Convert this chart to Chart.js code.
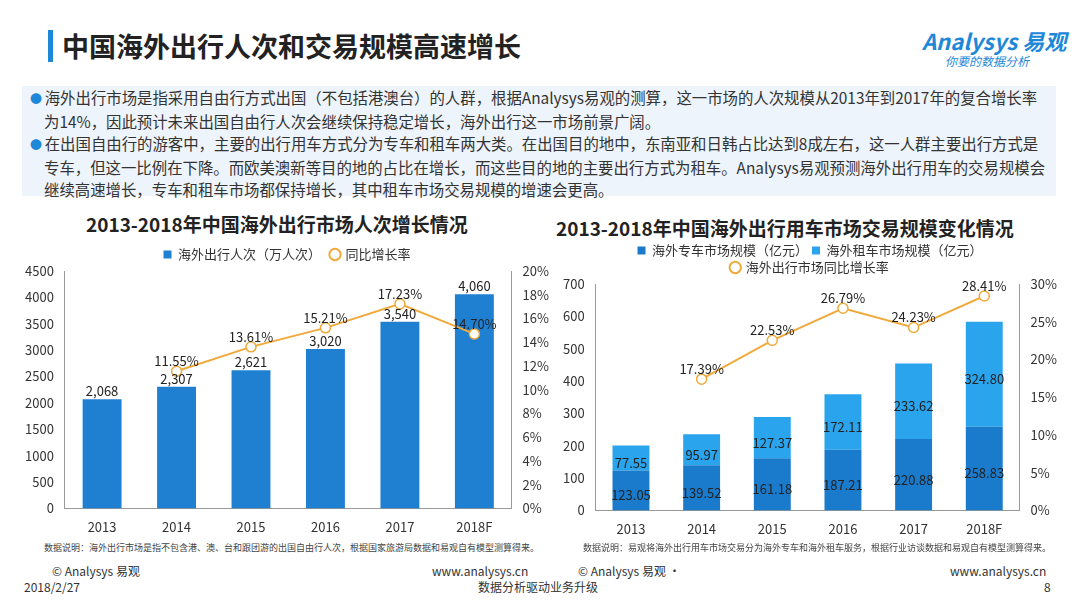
<!DOCTYPE html>
<html><head><meta charset="utf-8">
<script src="https://cdn.jsdelivr.net/npm/chart.js@4"></script>
<style>
body{margin:0;width:1080px;height:608px;background:#fff;font-family:"Noto Sans CJK SC","Noto Sans",sans-serif;position:relative;overflow:hidden;color:#333}
.abs{position:absolute}
#head{left:62px;top:26px;font-size:27px;font-weight:bold;color:#222}
#bar{left:48px;top:30px;width:5px;height:32px;background:#1e88d8}
#logo{left:922px;top:24px;font-size:22px;color:#1e88d8;font-style:italic;font-weight:bold}
#slogan{left:945px;top:52px;font-size:12px;color:#1e88d8;font-style:italic}
#box{left:22px;top:86px;width:1034px;height:110px;background:#eef4fb;font-size:15.4px;line-height:22px;padding:0 8px;box-sizing:border-box}
#box p{margin:0;padding-left:14px;text-indent:-14px}
#box p:before{content:"● ";color:#1e88d8;font-size:12px}
.t{font-size:19px;font-weight:bold;color:#222}
.note{font-size:9px;color:#444}
.foot{font-size:12px;color:#333}
canvas{position:absolute}
</style></head><body>
<div id="bar" class="abs"></div>
<div id="head" class="abs">中国海外出行人次和交易规模高速增长</div>
<div id="logo" class="abs">Analysys 易观</div>
<div id="slogan" class="abs">你要的数据分析</div>
<div id="box" class="abs">
<p>海外出行市场是指采用自由行方式出国（不包括港澳台）的人群，根据Analysys易观的测算，这一市场的人次规模从2013年到2017年的复合增长率为14%，因此预计未来出国自由行人次会继续保持稳定增长，海外出行这一市场前景广阔。</p>
<p>在出国自由行的游客中，主要的出行用车方式分为专车和租车两大类。在出国目的地中，东南亚和日韩占比达到8成左右，这一人群主要出行方式是专车，但这一比例在下降。而欧美澳新等目的地的占比在增长，而这些目的地的主要出行方式为租车。Analysys易观预测海外出行用车的交易规模会继续高速增长，专车和租车市场都保持增长，其中租车市场交易规模的增速会更高。</p>
</div>
<div class="abs t" style="left:86px;top:210px">2013-2018年中国海外出行市场人次增长情况</div>
<div class="abs t" style="left:556px;top:214px">2013-2018年中国海外出行用车市场交易规模变化情况</div>
<canvas id="c1" width="540" height="300" style="left:22px;top:238px"></canvas>
<canvas id="c2" width="510" height="300" style="left:560px;top:240px"></canvas>
<div class="abs note" style="left:44px;top:541px">数据说明：海外出行市场是指不包含港、澳、台和跟团游的出国自由行人次，根据国家旅游局数据和易观自有模型测算得来。</div>
<div class="abs note" style="left:583px;top:541px">数据说明：易观将海外出行用车市场交易分为海外专车和海外租车服务，根据行业访谈数据和易观自有模型测算得来。</div>
<div class="abs foot" style="left:52px;top:562px">© Analysys 易观</div>
<div class="abs foot" style="left:432px;top:562px">www.analysys.cn</div>
<div class="abs foot" style="left:578px;top:562px">© Analysys 易观 ·</div>
<div class="abs foot" style="left:950px;top:562px">www.analysys.cn</div>
<div class="abs foot" style="left:24px;top:578px">2018/2/27</div>
<div class="abs foot" style="left:478px;top:578px">数据分析驱动业务升级</div>
<div class="abs foot" style="left:1044px;top:578px">8</div>
<script>
const years = ['2013', '2014', '2015', '2016', '2017', '2018F']
const travelers = [2068, 2307, 2621, 3020, 3540, 4060]
const travelerGrowth = [null, 11.55, 13.61, 15.21, 17.23, 14.70]
const chauffeur = [123.05, 139.52, 161.18, 187.21, 220.88, 258.83]
const rental = [77.55, 95.97, 127.37, 172.11, 233.62, 324.80]
const carGrowth = [null, 17.39, 22.53, 26.79, 24.23, 28.41]

const orange = '#f0aa3c'
const font = { family: '"Noto Sans CJK SC", sans-serif', size: 13 }
Chart.defaults.font = font
Chart.defaults.color = '#333'

// draws value labels for each dataset
const valueLabels = {
  id: 'valueLabels',
  afterDatasetsDraw(chart, args, opts) {
    const ctx = chart.ctx
    ctx.save()
    ctx.font = '13px "Noto Sans CJK SC", sans-serif'
    ctx.textAlign = 'center'
    chart.data.datasets.forEach((ds, i) => {
      const meta = chart.getDatasetMeta(i)
      meta.data.forEach((el, j) => {
        const v = ds.data[j]
        if (v == null) return
        let y, txt
        if (ds.type === 'line') {
          txt = v.toFixed(2) + '%'
          y = el.y - 10
        } else if (opts.inside) {
          txt = v.toFixed(2)
          y = (el.y + el.base) / 2 + 5
        } else {
          txt = v.toLocaleString('en-US')
          y = el.y - 8
        }
        ctx.fillStyle = '#222'
        ctx.fillText(txt, el.x, y)
      })
    })
    ctx.restore()
  }
}

function legendItems(chart) {
  return chart.data.datasets.map((ds, i) => ({
    text: ds.label, datasetIndex: i,
    fillStyle: ds.type === 'line' ? '#fff' : ds.backgroundColor,
    strokeStyle: ds.type === 'line' ? orange : ds.backgroundColor,
    lineWidth: ds.type === 'line' ? 2 : 0,
    pointStyle: ds.type === 'line' ? 'circle' : 'rect',
    fontColor: '#333'
  }))
}

const legendOpts = {
  position: 'top',
  labels: { usePointStyle: true, boxWidth: 8, boxHeight: 8, font: { size: 13, family: font.family }, padding: 10, generateLabels: legendItems }
}

new Chart(document.getElementById('c1'), {
  data: {
    labels: years,
    datasets: [
      { type: 'line', label: '同比增长率', data: travelerGrowth, yAxisID: 'y1', borderColor: orange, borderWidth: 2,
        pointRadius: 5, pointBackgroundColor: '#fff', pointBorderColor: orange, pointBorderWidth: 1.5 },
      { type: 'bar', label: '海外出行人次（万人次）', data: travelers, yAxisID: 'y', backgroundColor: '#1f80d2',
        barPercentage: 0.55, categoryPercentage: 0.95 }
    ]
  },
  plugins: [valueLabels],
  options: {
    responsive: false, animation: false,
    layout: { padding: { right: 10 } },
    plugins: {
      legend: { ...legendOpts, reverse: true },
      valueLabels: { inside: false }
    },
    scales: {
      x: { grid: { display: false }, border: { color: '#999' } },
      y: { min: 0, max: 4500, ticks: { stepSize: 500, callback: v => v }, grid: { display: false }, border: { color: '#999' } },
      y1: { position: 'right', min: 0, max: 20, ticks: { stepSize: 2, callback: v => v + '%' }, grid: { display: false }, border: { color: '#999' } }
    }
  }
})

new Chart(document.getElementById('c2'), {
  data: {
    labels: years,
    datasets: [
      { type: 'line', label: '海外出行市场同比增长率', data: carGrowth, yAxisID: 'y1', borderColor: orange, borderWidth: 2,
        pointRadius: 5, pointBackgroundColor: '#fff', pointBorderColor: orange, pointBorderWidth: 1.5, order: 0 },
      { type: 'bar', label: '海外专车市场规模（亿元）', data: chauffeur, yAxisID: 'y', backgroundColor: '#1a7bcc',
        barPercentage: 0.55, categoryPercentage: 0.95, stack: 's', order: 1 },
      { type: 'bar', label: '海外租车市场规模（亿元）', data: rental, yAxisID: 'y', backgroundColor: '#2aa4ec',
        barPercentage: 0.55, categoryPercentage: 0.95, stack: 's', order: 1 }
    ]
  },
  plugins: [valueLabels],
  options: {
    responsive: false, animation: false,
    layout: { padding: { right: 10 } },
    plugins: {
      legend: { ...legendOpts, labels: { ...legendOpts.labels, padding: 4,
        sort: (a, b) => (a.datasetIndex === 0 ? 3 : a.datasetIndex) - (b.datasetIndex === 0 ? 3 : b.datasetIndex) } },
      valueLabels: { inside: true }
    },
    scales: {
      x: { stacked: true, grid: { display: false }, border: { color: '#999' } },
      y: { stacked: true, min: 0, max: 700, ticks: { stepSize: 100 }, grid: { display: false }, border: { color: '#999' } },
      y1: { position: 'right', min: 0, max: 30, ticks: { stepSize: 5, callback: v => v + '%' }, grid: { display: false }, border: { color: '#999' } }
    }
  }
})
</script>
</body></html>
